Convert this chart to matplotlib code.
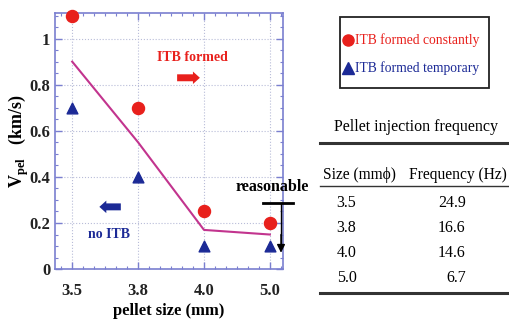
import matplotlib.pyplot as plt
from matplotlib.lines import Line2D
from matplotlib.patches import Rectangle
from matplotlib.ticker import MultipleLocator

plt.rcParams['font.family'] = ['Liberation Serif', 'DejaVu Serif']
plt.rcParams['mathtext.fontset'] = 'custom'
plt.rcParams['mathtext.rm'] = 'Liberation Serif'
plt.rcParams['mathtext.bf'] = 'Liberation Serif:bold'

# data
sizes = ['3.5', '3.8', '4.0', '5.0']
itb_const = [1.1, 0.7, 0.25, 0.2]
itb_temp = [0.7, 0.4, 0.1, 0.1]
boundary = [0.9, 0.55, 0.17, 0.15]
freqs = [24.9, 16.6, 14.6, 6.7]
legend_labels = ['ITB formed constantly', 'ITB formed temporary']

red = '#e8201c'
blue = '#1c2a96'
frame = '#7a7fd0'

fig = plt.figure(figsize=(5.1, 3.31), dpi=100)
ax = fig.add_axes([0.108, 0.187, 0.447, 0.773])
x = list(range(len(sizes)))

ax.plot(x, boundary, color='#c2348e', lw=1.5, zorder=2)
ax.scatter(x, itb_const, s=75, color=red, marker='o', zorder=3, clip_on=False)
ax.scatter(x, itb_temp, s=60, color=blue, marker='^', zorder=3)

ax.set_xlim(-0.26, 3.2)
ax.set_ylim(0, 1.11)
ax.set_xticks(x)
ax.set_xticklabels(sizes)
ax.xaxis.set_minor_locator(MultipleLocator(1 / 6))
ax.set_yticks([0, 0.2, 0.4, 0.6, 0.8, 1])
ax.set_yticklabels(['0', '0.2', '0.4', '0.6', '0.8', '1'])
ax.yaxis.set_minor_locator(MultipleLocator(0.05))
ax.tick_params(axis='both', which='both', direction='in', colors=frame,
               labelcolor='#222222', top=True, right=True)
ax.tick_params(axis='both', which='major', labelsize=12, width=1, length=5)
ax.tick_params(axis='both', which='minor', width=0.8, length=2.5)
ax.tick_params(axis='x', which='major', pad=10)
for lab in ax.get_xticklabels() + ax.get_yticklabels():
    lab.set_fontweight('bold')
for s in ax.spines.values():
    s.set_color(frame)
    s.set_linewidth(1.2)
ax.grid(True, which='major', color='#b8bcd8', ls=':', lw=0.8)

ax.set_xlabel('pellet size (mm)', fontsize=12, fontweight='bold', labelpad=3)
ax.set_ylabel(r'V$_{\mathbf{pel}}$   (km/s)', fontsize=13, fontweight='bold', labelpad=-1)

# annotations
ax.text(1.83, 0.917, 'ITB formed', color=red, fontsize=10, fontweight='bold', ha='center', va='center')
ax.annotate('', xy=(1.98, 0.83), xytext=(1.55, 0.83),
            arrowprops=dict(arrowstyle='simple,head_width=0.9,head_length=0.5,tail_width=0.5',
                            color=red, lw=0))
ax.annotate('', xy=(0.37, 0.27), xytext=(0.78, 0.27),
            arrowprops=dict(arrowstyle='simple,head_width=0.9,head_length=0.5,tail_width=0.5',
                            color=blue, lw=0))
ax.text(0.56, 0.15, 'no ITB', color=blue, fontsize=10, fontweight='bold', ha='center', va='center')

fig.text(0.461, 0.435, 'reasonable', fontsize=11.5, fontweight='bold', ha='left', va='center')
fig.add_artist(Line2D([0.516, 0.575], [0.387, 0.387], color='black', lw=2))
fig.add_artist(Line2D([0.551, 0.551], [0.387, 0.25], color='black', lw=1))
ax.annotate('', xy=(0.551, 0.228), xytext=(0.551, 0.3), xycoords='figure fraction',
            arrowprops=dict(arrowstyle='-|>', color='black', lw=1, mutation_scale=12))

# legend box
fig.add_artist(Rectangle((0.667, 0.734), 0.292, 0.2145, transform=fig.transFigure,
                         fill=False, edgecolor='#222222', lw=1.3))
fig.add_artist(Line2D([0.683], [0.879], marker='o', ms=8, color=red, ls='none'))
fig.add_artist(Line2D([0.683], [0.795], marker='^', ms=8, color=blue, ls='none'))
fig.text(0.697, 0.879, legend_labels[0], color=red, fontsize=9.8, ha='left', va='center')
fig.text(0.697, 0.795, legend_labels[1], color=blue, fontsize=9.8, ha='left', va='center')

# table
x0, x1 = 0.628, 1.0
fig.text(0.815, 0.616, 'Pellet injection frequency', fontsize=11.5, ha='center', va='center')
fig.add_artist(Line2D([x0, x1], [0.568, 0.568], color='#333333', lw=2.2))
fig.text(0.633, 0.471, 'Size (mm\u03d5)', fontsize=11.2, ha='left', va='center')
fig.text(0.897, 0.471, 'Frequency (Hz)', fontsize=11.2, ha='center', va='center')
fig.add_artist(Line2D([x0, x1], [0.438, 0.438], color='#333333', lw=1))
row_y = [0.387, 0.311, 0.236, 0.16]
for sz, fr, y in zip(sizes, freqs, row_y):
    fig.text(0.66, y, sz, fontsize=11.5, ha='left', va='center')
    fig.text(0.913, y, f'{fr}', fontsize=11.5, ha='right', va='center')
fig.add_artist(Line2D([x0, x1], [0.115, 0.115], color='#333333', lw=2.2))

fig.savefig('out.png', dpi=100)
